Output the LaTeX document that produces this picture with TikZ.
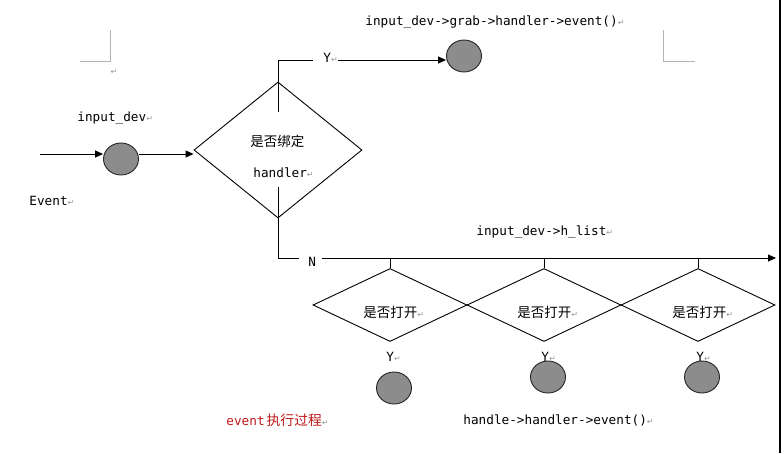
\documentclass[tikz,border=0pt]{standalone}
\usepackage{fontspec}
\setmainfont{DejaVu Sans Mono}
\newfontfamily\cjk{Noto Sans CJK SC}
\newfontfamily\dvs{DejaVu Sans}
\usetikzlibrary{arrows.meta,shapes.geometric,calc}
\definecolor{markgray}{RGB}{150,150,150}
\definecolor{ballgray}{RGB}{140,140,140}
\definecolor{cornergray}{RGB}{180,180,180}
\definecolor{redtext}{RGB}{190,25,25}
\newcommand\pmk{{\color{markgray}\dvs\fontsize{8}{8}\selectfont ↵}}
\begin{document}
\begin{tikzpicture}[x=1pt,y=-1pt,
  line width=0.9pt,
  txt/.style={inner sep=0pt,anchor=west,font=\fontsize{12.7}{14}\selectfont},
  cn/.style={inner sep=0pt,anchor=west,font=\cjk\fontsize{13.5}{15}\selectfont},
  ball/.style={ellipse,draw=black!85,fill=ballgray,minimum width=35pt,minimum height=32pt,inner sep=0pt},
  bigdia/.style={diamond,draw,minimum width=168pt,minimum height=136pt,inner sep=0pt},
  smalldia/.style={diamond,draw,minimum width=154pt,minimum height=73pt,inner sep=0pt},
  arr/.style={-{Triangle[length=8pt,width=7pt]}},
  corner/.style={draw=cornergray,line width=0.8pt}
]
\useasboundingbox (0,0) rectangle (784,453);

% page corner marks and right border
\draw[corner] (80,61) -- (110,61) -- (110,30);
\draw[corner] (663,30) -- (663,61) -- (695,61);
\node[inner sep=0pt] (pm) at (114,72) {\pmk};
\draw[line width=1.3pt] (780,0) -- (780,453);

% balls
\node[ball] (g0) at (121,159) {};
\node[ball] (g1) at (464,56) {};
\node[ball] (g2) at (394,388) {};
\node[ball] (g3) at (548,377) {};
\node[ball] (g4) at (702,377) {};

% diamonds
\node[bigdia] (d0) at (278,150) {};
\node[smalldia] (d1) at (390,305) {};
\node[smalldia] (d2) at (544,305) {};
\node[smalldia] (d3) at (698,305) {};

% texts
\node[txt] (tgrab) at (365,22) {input\_dev->grab->handler->event()\pmk};
\node[txt] (tdev) at (77,118) {input\_dev\pmk};
\node[txt] (tevent) at (29,201) {Event\pmk};
\node[txt] (thlist) at (476,232) {input\_dev->h\_list\pmk};
\node[cn] (tbind) at (250,141) {是否绑定};
\node[txt] (thandler) at (253,173) {handler\pmk};
\node[cn] (o1) at (363,312) {是否打开\pmk};
\node[cn] (o2) at (517,312) {是否打开\pmk};
\node[cn] (o3) at (672,312) {是否打开\pmk};
\node[txt] (y1) at (386,357) {Y\pmk};
\node[txt] (y2) at (541,357) {Y\pmk};
\node[txt] (y3) at (696,357) {Y\pmk};
\node[txt,text=redtext] (tproc) at (226,420) {event\hspace{2pt}{\cjk\fontsize{13.8}{15}\selectfont 执行过程}\pmk};
\node[txt] (thh) at (463,420) {handle->handler->event()\pmk};

% input path
\coordinate (ein) at (40,154);
\draw[arr] (ein) -- (ein -| g0.west);
\draw[arr] (ein -| g0.east) -- (ein -| d0.west);

% Y branch
\coordinate (jtop) at (278,112);
\coordinate (yl) at (313,60);
\node[txt] (ylab) at (323,58) {Y\pmk};
\draw (jtop) |- (yl);
\draw[arr] (ylab.east |- yl) -- (yl -| g1.west);

% N branch
\coordinate (jbot) at (278,187);
\coordinate (nl) at (299,258);
\coordinate (nr) at (322,258);
\coordinate (hend) at (776,258);
\node[txt] (nlab) at (308,262) {N};
\draw (jbot) |- (nl);
\draw[arr] (nr) -- (hend);

% ticks to the small diamonds
\draw (d1.north |- nr) -- (d1.north);
\draw (d2.north |- nr) -- (d2.north);
\draw (d3.north |- nr) -- (d3.north);
\end{tikzpicture}
\end{document}
